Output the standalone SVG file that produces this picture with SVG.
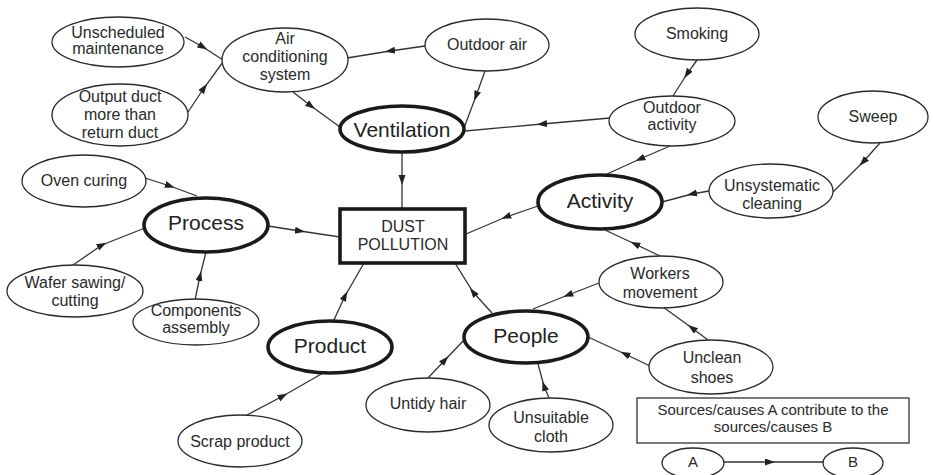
<svg xmlns="http://www.w3.org/2000/svg" width="933" height="475" viewBox="0 0 933 475">
  <style>
    .bg { fill: #ffffff; }
    .n { fill: #ffffff; stroke: #2a2a2a; stroke-width: 1.3; }
    .m { fill: #ffffff; stroke: #1a1a1a; stroke-width: 3.6; }
    .t { font-family: "Liberation Sans", Arial, sans-serif; font-size: 16px; fill: #2a2a2a; text-anchor: middle; }
    .tb { font-family: "Liberation Sans", Arial, sans-serif; font-size: 21px; fill: #222; text-anchor: middle; }
    .tl { font-family: "Liberation Sans", Arial, sans-serif; font-size: 15px; fill: #2a2a2a; text-anchor: middle; }
    .c { fill: none; stroke: #333; stroke-width: 1.3; marker-mid: url(#tip); }
  </style>
  <defs>
    <marker id="tip" markerUnits="userSpaceOnUse" markerWidth="10" markerHeight="8" refX="5" refY="3.5" orient="auto">
      <path d="M0,0 L10,3.5 L0,7 z" fill="#222"/>
    </marker>
  </defs>
  <rect class="bg" x="0" y="0" width="933" height="475"/>

  <!-- connectors: each path has its arrowhead on the middle vertex -->
  <g id="connectors">
    <path class="c" d="M185,37 L203,47 L223,60"/>
    <path class="c" d="M188,112 L204,88 L223,62"/>
    <path class="c" d="M425,46 L390,51 L347,58"/>
    <path class="c" d="M293,92 L311,106 L340,127"/>
    <path class="c" d="M485,71 L476,96 L464,128"/>
    <path class="c" d="M610,118 L542,124 L465,131"/>
    <path class="c" d="M697,60 L687,74 L673,96"/>
    <path class="c" d="M670,146 L640,159 L607,174"/>
    <path class="c" d="M880,143 L863,162 L833,192"/>
    <path class="c" d="M709,191 L692,194 L662,202"/>
    <path class="c" d="M538,206 L506,217 L466,234"/>
    <path class="c" d="M660,256 L635,244 L605,230"/>
    <path class="c" d="M599,283 L568,295 L533,309"/>
    <path class="c" d="M708,340 L692,328 L663,307"/>
    <path class="c" d="M650,366 L625,354 L588,337"/>
    <path class="c" d="M549,398 L544,386 L538,364"/>
    <path class="c" d="M428,378 L445,360 L466,338"/>
    <path class="c" d="M492,313 L473,292 L455,263"/>
    <path class="c" d="M333,322 L345,296 L364,263"/>
    <path class="c" d="M247,415 L283,396 L323,373"/>
    <path class="c" d="M402,152 L402,180 L402,209"/>
    <path class="c" d="M268,226 L300,231 L340,237"/>
    <path class="c" d="M145,178 L170,186 L197,196"/>
    <path class="c" d="M73,265 L102,245 L145,228"/>
    <path class="c" d="M195,300 L200,276 L206,252"/>
    <path class="c" d="M724,462 L770,462 L823,462"/>
  </g>

  <g id="unscheduled-maintenance">
    <ellipse class="n" cx="118" cy="42" rx="66" ry="25"/>
    <text class="t" x="118" y="38">Unscheduled</text>
    <text class="t" x="118" y="54">maintenance</text>
  </g>
  <g id="output-duct">
    <ellipse class="n" cx="120" cy="115" rx="68" ry="31"/>
    <text class="t" x="120" y="102">Output duct</text>
    <text class="t" x="120" y="120">more than</text>
    <text class="t" x="120" y="138">return duct</text>
  </g>
  <g id="air-conditioning">
    <ellipse class="n" cx="285" cy="60" rx="63" ry="32"/>
    <text class="t" x="285" y="44">Air</text>
    <text class="t" x="285" y="62">conditioning</text>
    <text class="t" x="285" y="80">system</text>
  </g>
  <g id="outdoor-air">
    <ellipse class="n" cx="487" cy="45" rx="62" ry="26"/>
    <text class="t" x="487" y="50">Outdoor air</text>
  </g>
  <g id="smoking">
    <ellipse class="n" cx="697" cy="34" rx="62" ry="26"/>
    <text class="t" x="697" y="39">Smoking</text>
  </g>
  <g id="outdoor-activity">
    <ellipse class="n" cx="672" cy="121" rx="63" ry="25"/>
    <text class="t" x="672" y="113">Outdoor</text>
    <text class="t" x="672" y="130">activity</text>
  </g>
  <g id="sweep">
    <ellipse class="n" cx="873" cy="117" rx="55" ry="26"/>
    <text class="t" x="873" y="122">Sweep</text>
  </g>
  <g id="ventilation">
    <ellipse class="m" cx="402" cy="129" rx="62" ry="23"/>
    <text class="tb" x="402" y="137">Ventilation</text>
  </g>
  <g id="activity">
    <ellipse class="m" cx="600" cy="202" rx="62" ry="27"/>
    <text class="tb" x="600" y="208">Activity</text>
  </g>
  <g id="unsystematic-cleaning">
    <ellipse class="n" cx="771" cy="191" rx="62" ry="27"/>
    <text class="t" x="772" y="191">Unsystematic</text>
    <text class="t" x="772" y="209">cleaning</text>
  </g>
  <g id="workers-movement">
    <ellipse class="n" cx="661" cy="282" rx="62" ry="26"/>
    <text class="t" x="660" y="279">Workers</text>
    <text class="t" x="660" y="298">movement</text>
  </g>
  <g id="oven-curing">
    <ellipse class="n" cx="84" cy="181" rx="62" ry="26"/>
    <text class="t" x="84" y="186">Oven curing</text>
  </g>
  <g id="process">
    <ellipse class="m" cx="206" cy="225" rx="62" ry="27"/>
    <text class="tb" x="206" y="230">Process</text>
  </g>
  <g id="dust-pollution">
    <rect class="m" x="340" y="209" width="125" height="54"/>
    <text class="t" x="403" y="232">DUST</text>
    <text class="t" x="403" y="250">POLLUTION</text>
  </g>
  <g id="wafer-sawing">
    <ellipse class="n" cx="75" cy="291" rx="68" ry="26"/>
    <text class="t" x="75" y="288">Wafer sawing/</text>
    <text class="t" x="75" y="306">cutting</text>
  </g>
  <g id="components-assembly">
    <ellipse class="n" cx="196" cy="322" rx="63" ry="23"/>
    <text class="t" x="196" y="316">Components</text>
    <text class="t" x="196" y="333">assembly</text>
  </g>
  <g id="product">
    <ellipse class="m" cx="330" cy="347" rx="62" ry="26"/>
    <text class="tb" x="330" y="353">Product</text>
  </g>
  <g id="scrap-product">
    <ellipse class="n" cx="240" cy="441" rx="62" ry="26"/>
    <text class="t" x="240" y="447">Scrap product</text>
  </g>
  <g id="people">
    <ellipse class="m" cx="526" cy="337" rx="62" ry="26"/>
    <text class="tb" x="526" y="343">People</text>
  </g>
  <g id="untidy-hair">
    <ellipse class="n" cx="428" cy="405" rx="62" ry="27"/>
    <text class="t" x="428" y="409">Untidy hair</text>
  </g>
  <g id="unsuitable-cloth">
    <ellipse class="n" cx="551" cy="425" rx="62" ry="27"/>
    <text class="t" x="551" y="423">Unsuitable</text>
    <text class="t" x="551" y="442">cloth</text>
  </g>
  <g id="unclean-shoes">
    <ellipse class="n" cx="711" cy="367" rx="62" ry="27"/>
    <text class="t" x="712" y="363">Unclean</text>
    <text class="t" x="712" y="383">shoes</text>
  </g>

  <!-- legend -->
  <g id="legend">
    <rect x="637" y="398" width="272" height="45" fill="#fff" stroke="#333" stroke-width="1.3"/>
    <text class="tl" x="773" y="415">Sources/causes A contribute to the</text>
    <text class="tl" x="773" y="432">sources/causes B</text>
  </g>
  <g id="legend-a">
    <ellipse class="n" cx="693" cy="463" rx="31" ry="15"/>
    <text class="tl" x="693" y="467">A</text>
  </g>
  <g id="legend-b">
    <ellipse class="n" cx="853" cy="463" rx="30" ry="15"/>
    <text class="tl" x="853" y="467">B</text>
  </g>
</svg>
